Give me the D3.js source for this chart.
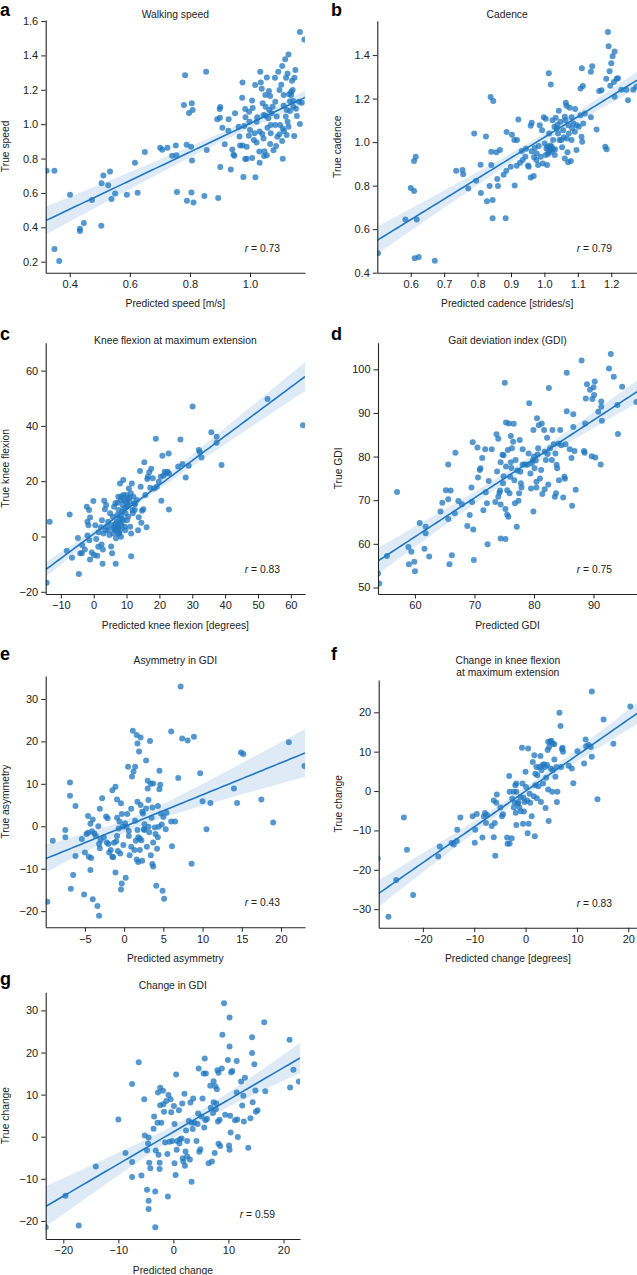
<!DOCTYPE html>
<html><head><meta charset="utf-8">
<script src="https://cdn.jsdelivr.net/npm/d3@7"></script>
<style>
body{margin:0;background:#fff;}
svg{display:block;font-family:"Liberation Sans",Arial,Helvetica,sans-serif;}
</style></head><body>
<svg id="chart" width="637" height="1275"></svg>
<script>
// ---- data: [predicted, true] pairs ----
const speedPts = [[0.323,0.729],[0.349,0.729],[0.349,0.274],[0.365,0.204],[0.401,0.590],[0.434,0.392],[0.434,0.378],[0.447,0.425],[0.474,0.559],[0.505,0.409],[0.506,0.656],[0.512,0.702],[0.534,0.724],[0.528,0.645],[0.539,0.564],[0.551,0.596],[0.590,0.590],[0.617,0.776],[0.626,0.601],[0.650,0.838],[0.701,0.863],[0.708,0.851],[0.725,0.863],[0.741,0.817],[0.753,0.876],[0.755,0.819],[0.757,0.605],[0.784,1.284],[0.780,1.111],[0.789,0.880],[0.790,0.555],[0.797,1.065],[0.806,1.121],[0.809,1.082],[0.804,0.869],[0.807,0.788],[0.805,0.603],[0.812,0.545],[0.848,0.582],[0.854,1.305],[0.856,0.850],[0.894,0.570],[0.891,1.028],[0.899,1.088],[0.901,1.100],[0.900,1.037],[0.901,0.751],[0.908,0.979],[0.916,0.883],[0.929,1.028],[0.928,0.962],[0.936,0.737],[0.941,0.853],[0.945,0.822],[0.948,0.817],[0.965,0.929],[0.967,0.876],[0.975,0.876],[0.975,1.243],[0.974,1.154],[0.978,0.693],[0.981,0.989],[0.984,1.088],[0.985,1.040],[0.984,0.797],[0.989,0.799],[0.996,0.933],[0.998,1.014],[1.007,0.803],[1.007,1.137],[1.009,1.094],[1.017,1.228],[1.018,0.691],[1.022,0.894],[1.024,1.040],[1.032,0.776],[1.032,0.958],[1.034,1.305],[1.036,1.243],[1.039,1.206],[1.041,0.943],[1.042,1.121],[1.047,0.815],[1.048,0.843],[1.052,1.049],[1.056,1.272],[1.058,0.979],[1.063,1.193],[1.067,1.164],[1.067,0.884],[1.069,0.947],[1.056,0.819],[1.072,1.063],[1.078,0.848],[1.084,1.131],[1.083,1.270],[1.087,0.873],[1.089,1.044],[1.094,1.305],[1.098,0.941],[1.104,1.230],[1.107,1.338],[1.112,1.107],[1.109,0.799],[1.113,0.960],[1.117,1.377],[1.120,1.270],[1.125,1.295],[1.128,1.406],[1.130,1.174],[1.133,1.133],[1.137,1.189],[1.140,1.253],[1.144,1.135],[1.147,0.931],[1.151,1.315],[1.153,1.090],[1.156,1.047],[1.163,1.131],[1.166,1.001],[1.166,1.536],[1.181,1.493],[1.172,1.125],[1.015,0.947],[1.045,1.053],[1.052,1.102],[1.061,1.034],[1.064,1.082],[1.075,1.102],[1.069,0.995],[1.084,0.995],[1.091,0.927],[1.100,0.995],[1.107,0.902],[1.109,0.975],[1.119,1.044],[1.122,1.082],[1.125,1.014],[1.128,0.985],[1.133,1.077],[1.137,1.170],[1.142,1.199],[1.148,1.270],[1.122,0.937],[1.144,1.102],[1.098,1.199],[1.112,1.170],[1.045,0.917],[1.031,0.841],[1.013,0.908],[0.989,0.869],[1.022,1.014],[1.051,1.170],[0.997,1.073],[0.962,0.985],[0.950,1.063],[1.000,0.966]];

const cadencePts = [[0.502,0.489],[0.584,0.645],[0.600,0.789],[0.610,0.775],[0.610,0.913],[0.615,0.933],[0.618,0.645],[0.612,0.466],[0.624,0.472],[0.672,0.455],[0.736,0.869],[0.755,0.872],[0.757,0.852],[0.772,0.787],[0.790,1.040],[0.796,0.823],[0.809,0.896],[0.810,0.766],[0.825,1.026],[0.828,0.728],[0.836,0.798],[0.839,1.207],[0.841,0.956],[0.841,0.895],[0.845,0.734],[0.845,0.650],[0.847,1.189],[0.856,0.954],[0.859,0.830],[0.861,0.798],[0.867,0.964],[0.878,0.850],[0.884,0.650],[0.886,0.869],[0.887,1.046],[0.899,0.887],[0.903,1.034],[0.910,1.010],[0.911,0.801],[0.917,0.892],[0.918,1.010],[0.922,1.104],[0.927,0.905],[0.932,0.959],[0.935,0.918],[0.943,0.933],[0.951,0.893],[0.953,0.887],[0.945,0.970],[0.959,0.838],[0.959,1.075],[0.962,1.089],[0.962,0.957],[0.968,0.844],[0.969,0.930],[0.971,0.973],[0.977,0.948],[0.981,0.895],[0.983,0.982],[0.986,1.077],[0.993,1.055],[0.995,0.902],[0.998,1.114],[1.004,1.108],[1.008,0.895],[1.013,1.316],[1.019,1.265],[1.006,0.971],[1.011,0.945],[1.014,1.040],[1.018,0.985],[1.021,0.956],[1.024,1.101],[1.026,1.010],[1.030,1.071],[1.032,0.967],[1.034,1.112],[1.037,1.063],[1.039,1.080],[1.031,0.941],[1.043,1.144],[1.045,1.010],[1.048,1.094],[1.053,0.976],[1.056,1.055],[1.058,1.022],[1.061,0.925],[1.063,1.101],[1.064,1.181],[1.066,1.167],[1.067,1.017],[1.069,0.954],[1.071,0.908],[1.072,1.078],[1.076,1.158],[1.079,0.913],[1.081,1.114],[1.087,1.086],[1.092,1.152],[1.096,0.964],[1.097,1.078],[1.103,1.071],[1.108,1.124],[1.108,1.247],[1.111,1.025],[1.112,1.340],[1.115,1.258],[1.113,1.002],[1.116,1.086],[1.121,1.132],[1.139,1.114],[1.139,1.323],[1.143,1.349],[1.156,1.058],[1.164,1.235],[1.171,1.238],[1.182,0.979],[1.186,0.967],[1.185,1.291],[1.190,1.506],[1.192,1.441],[1.195,1.326],[1.197,1.259],[1.200,1.362],[1.204,1.395],[1.210,1.417],[1.208,1.276],[1.210,1.209],[1.216,1.291],[1.220,1.293],[1.230,1.241],[1.245,1.241],[1.250,1.192],[1.266,1.241],[1.275,1.255],[1.001,0.994],[1.009,0.979],[1.016,0.971],[1.021,0.979],[1.025,0.967],[1.013,0.956],[1.004,0.941],[0.989,0.933],[0.976,0.918],[1.041,1.040],[1.051,1.010],[1.073,1.040],[1.081,1.010],[1.091,1.048],[1.061,1.117],[1.083,1.063]];

const kneePts = [[-14.3,-16.7],[-13.4,5.3],[-7.3,8.0],[-8.2,-5.2],[-6.6,-7.7],[-4.5,-13.6],[-4.8,-0.5],[-4.1,-6.1],[-3.6,-6.1],[-3.5,-3.1],[-2.7,-4.7],[-2.1,10.8],[-1.9,5.3],[-1.6,4.1],[-1.4,9.6],[-1.9,0.4],[-1.3,-1.4],[-1.1,6.9],[-1.1,-8.3],[-0.6,-5.8],[-0.1,12.8],[0.1,-6.7],[0.5,4.1],[0.8,-0.9],[1.1,-7.0],[1.4,-3.7],[1.5,1.5],[2.2,3.3],[2.4,-2.9],[2.5,5.9],[2.7,-9.9],[2.8,-4.7],[3.0,1.1],[3.2,12.9],[3.4,9.9],[3.6,2.3],[3.8,11.4],[4.0,3.5],[4.4,5.3],[4.8,0.5],[5.0,8.4],[5.3,-3.6],[5.5,4.1],[5.6,-6.1],[5.8,7.1],[6.0,1.1],[6.2,10.8],[6.4,2.3],[6.6,12.0],[6.7,-9.9],[6.8,-0.6],[7.0,5.3],[7.2,7.8],[7.3,12.2],[7.5,2.9],[7.6,9.6],[7.8,1.1],[8.0,19.2],[8.2,4.7],[8.3,-0.1],[8.4,14.4],[8.6,6.5],[8.8,11.4],[9.0,20.4],[9.2,13.2],[9.5,3.5],[9.7,8.4],[9.9,15.0],[10.1,10.8],[10.3,13.8],[10.5,7.1],[10.7,17.4],[10.9,12.6],[11.1,3.5],[11.3,15.6],[11.4,1.1],[11.4,-7.1],[11.6,19.2],[11.8,9.6],[12.1,14.4],[12.3,12.0],[12.5,9.6],[13.1,13.2],[13.5,2.3],[13.7,7.0],[14.1,23.7],[14.3,18.0],[14.5,5.0],[14.7,9.3],[15.1,9.9],[15.4,26.9],[15.7,15.0],[16.1,3.3],[16.3,20.8],[16.5,21.6],[16.9,23.2],[17.2,17.6],[17.5,24.5],[18.0,21.1],[18.4,17.4],[18.9,35.4],[19.2,18.0],[19.8,19.8],[20.4,21.6],[20.6,12.9],[20.9,29.2],[21.2,22.0],[21.6,23.4],[22.0,22.8],[22.5,23.4],[22.8,30.0],[22.9,9.8],[22.9,22.8],[25.7,25.3],[26.4,35.1],[27.0,26.2],[28.0,21.3],[28.9,25.6],[30.1,47.0],[32.0,31.3],[32.3,30.6],[32.8,28.6],[35.8,37.7],[37.4,36.1],[37.4,33.9],[38.9,25.9],[52.9,49.7],[63.7,40.2],[6.5,4.5],[7.2,3.5],[7.7,5.9],[8.2,7.4],[8.7,9.0],[9.4,10.2],[9.9,12.6],[10.4,11.4],[10.9,14.1],[8.0,2.3],[7.5,1.1],[6.8,2.6],[6.0,3.2],[8.5,4.1],[9.0,5.9],[9.6,2.3],[10.1,5.9],[11.9,8.4],[12.6,11.7],[9.0,15.0],[8.2,13.2],[7.5,14.4],[4.5,2.3]];

const gdiPts = [[53.8,53.2],[54.0,50.9],[55.3,57.2],[57.0,71.9],[58.9,59.3],[59.0,55.3],[59.4,58.2],[59.9,55.9],[60.0,53.7],[60.8,64.8],[61.6,58.9],[61.8,63.9],[61.8,62.4],[62.4,57.1],[64.3,67.4],[64.6,69.4],[65.2,72.3],[65.6,78.2],[65.6,70.2],[65.6,65.7],[65.8,55.3],[66.0,72.2],[66.2,57.4],[66.8,80.9],[66.7,67.0],[67.3,69.8],[67.9,69.1],[68.8,64.1],[69.2,66.6],[69.5,72.9],[69.6,69.6],[69.7,83.3],[69.8,63.3],[69.9,56.3],[70.5,82.1],[70.6,75.2],[70.9,76.9],[71.0,77.3],[71.3,79.7],[71.5,67.7],[71.8,81.7],[71.9,71.8],[72.1,69.3],[72.2,59.9],[72.4,74.4],[72.9,81.7],[73.5,69.6],[73.7,85.1],[73.8,76.6],[74.0,84.1],[74.0,70.8],[74.2,71.7],[74.3,72.2],[74.4,61.2],[74.4,69.0],[74.4,78.7],[74.7,80.4],[74.8,73.9],[74.9,80.3],[74.9,75.5],[75.1,96.9],[75.2,61.1],[75.2,68.0],[75.3,77.7],[75.3,87.8],[75.5,72.3],[75.5,66.7],[75.6,81.5],[75.7,66.2],[75.8,87.6],[75.9,71.6],[76.0,75.4],[76.1,78.7],[76.1,84.7],[76.2,77.4],[76.3,81.9],[76.5,83.4],[76.6,87.5],[76.7,74.6],[76.8,69.3],[76.9,79.2],[77.1,63.9],[77.2,76.8],[77.4,69.9],[77.5,71.6],[77.6,83.8],[77.7,76.5],[77.8,73.9],[77.9,72.9],[78.1,81.7],[78.1,78.2],[78.5,78.2],[78.9,78.1],[79.1,80.7],[79.2,92.2],[79.4,76.1],[79.5,72.7],[79.6,78.4],[79.8,79.1],[79.9,67.4],[79.9,86.1],[80.0,80.0],[80.1,77.3],[80.3,79.1],[80.4,74.2],[80.4,72.9],[80.5,88.8],[80.6,80.5],[80.7,81.9],[80.8,87.2],[81.0,75.0],[81.2,76.9],[81.3,87.6],[81.4,71.4],[81.7,86.1],[81.8,81.1],[81.8,72.5],[82.0,79.2],[82.2,84.3],[82.3,80.6],[82.4,73.6],[82.5,95.7],[82.7,81.9],[83.0,79.2],[83.1,86.1],[83.3,82.8],[83.5,70.8],[83.6,80.7],[83.7,71.6],[83.8,78.1],[83.9,77.3],[84.1,83.0],[84.2,74.6],[84.4,86.1],[84.6,82.6],[84.9,70.6],[85.1,75.4],[85.2,74.9],[85.3,82.8],[85.5,90.4],[85.5,99.2],[86.0,81.7],[86.3,79.7],[86.4,68.7],[86.6,86.8],[86.6,89.7],[86.8,81.3],[87.0,72.4],[88.4,81.3],[88.5,80.9],[88.6,87.6],[88.0,102.0],[88.7,93.3],[88.9,96.6],[89.4,95.3],[89.7,80.1],[89.8,93.2],[90.0,95.9],[90.1,94.1],[90.2,97.2],[90.3,79.8],[90.8,90.3],[91.2,78.2],[91.3,92.6],[91.3,91.4],[91.4,88.2],[92.6,100.2],[92.9,103.5],[93.4,98.3],[94.0,91.8],[94.1,85.2],[94.8,96.0],[97.2,92.5]];

const asymPts = [[-9.8,-17.8],[-9.1,-3.4],[-7.5,-0.9],[-7.5,-2.6],[-6.9,10.3],[-6.9,7.2],[-6.8,-14.7],[-6.5,-11.5],[-6.2,4.8],[-6.2,-7.0],[-5.4,-3.0],[-5.1,-16.1],[-5.0,-6.2],[-4.8,-1.8],[-4.6,2.4],[-4.6,-1.5],[-4.5,-7.2],[-4.3,-10.3],[-4.3,0.6],[-4.2,-7.5],[-4.1,-1.2],[-4.0,-17.2],[-4.0,1.6],[-3.8,-1.7],[-3.6,-2.3],[-3.4,-18.8],[-3.3,0.0],[-3.2,-4.2],[-3.2,-21.1],[-3.1,-5.2],[-3.1,4.1],[-3.0,-3.3],[-2.8,6.6],[-2.6,-2.6],[-2.3,2.3],[-2.2,-3.8],[-2.1,1.9],[-2.0,-4.2],[-1.9,-6.2],[-1.7,-5.6],[-1.5,-7.2],[-1.5,8.5],[-1.4,-7.3],[-1.3,-3.9],[-1.1,-10.9],[-1.1,9.3],[-1.0,-3.5],[-0.9,2.0],[-0.9,6.3],[-0.9,-2.3],[-0.8,-5.8],[-0.7,-0.5],[-0.6,1.1],[-0.5,-6.4],[-0.4,5.4],[-0.4,-14.9],[-0.3,2.9],[-0.3,-13.5],[-0.2,-0.1],[-0.1,-4.4],[0.1,0.7],[0.2,-12.1],[0.3,-0.1],[0.4,2.9],[0.5,14.0],[0.6,-1.1],[0.6,-2.3],[0.7,-6.8],[0.9,4.1],[0.9,-4.8],[1.0,11.7],[1.1,22.5],[1.2,12.9],[1.3,-5.6],[1.4,1.3],[1.4,14.0],[1.5,-3.4],[1.6,21.5],[1.6,-7.8],[1.7,-0.9],[1.7,19.5],[1.7,5.8],[1.8,-8.4],[1.8,-2.6],[1.9,17.6],[2.0,-2.9],[2.0,-5.6],[2.1,20.9],[2.1,5.0],[2.2,-3.3],[2.3,-8.1],[2.3,3.4],[2.4,3.0],[2.5,-0.7],[2.6,0.5],[2.6,-0.9],[2.8,4.2],[2.8,15.5],[2.9,-4.8],[3.0,10.7],[3.0,8.9],[3.1,6.2],[3.1,-0.1],[3.2,-1.4],[3.3,20.1],[3.4,-6.8],[3.4,10.0],[3.5,2.0],[3.6,-8.9],[3.6,4.4],[3.7,-3.8],[3.7,10.1],[3.7,-9.5],[3.9,-0.3],[4.0,-1.8],[4.2,-5.3],[4.1,-14.0],[4.3,-2.6],[4.3,4.8],[4.4,-0.1],[4.5,8.7],[4.5,13.1],[4.6,9.8],[4.7,3.0],[4.8,0.4],[4.9,-15.2],[5.0,2.2],[5.1,-17.1],[5.3,-0.7],[5.4,3.2],[6.0,22.3],[6.0,1.1],[6.1,-4.7],[6.5,1.1],[6.9,11.4],[7.2,32.9],[7.4,20.7],[8.1,20.2],[8.6,-8.8],[8.9,21.1],[9.7,12.5],[10.0,5.9],[10.5,-0.7],[11.0,5.5],[14.0,8.9],[14.4,5.5],[14.9,17.4],[15.2,17.0],[17.5,6.3],[19.0,0.9],[21.0,19.8],[23.0,14.2]];

const kneeChangePts = [[-28.8,-17.1],[-26.7,-31.9],[-25.2,-22.6],[-23.7,-6.7],[-23.1,-14.9],[-21.9,-26.4],[-17.0,-16.6],[-16.7,-14.1],[-14.4,-13.2],[-14.0,-13.6],[-13.4,-12.7],[-13.3,-9.8],[-12.7,-6.7],[-10.3,-6.4],[-9.8,-9.8],[-9.9,-13.1],[-9.5,-5.8],[-8.4,-11.8],[-8.1,-6.4],[-7.9,-5.6],[-7.7,-8.1],[-7.5,-6.1],[-6.6,-8.9],[-6.2,-11.7],[-6.2,-2.4],[-6.0,-8.1],[-5.9,-16.4],[-5.7,-3.0],[-5.6,-0.9],[-4.9,-4.2],[-4.6,-6.4],[-4.4,-5.9],[-3.6,-11.8],[-3.5,-13.4],[-3.2,3.8],[-3.1,-13.3],[-3.1,-0.2],[-2.7,-12.0],[-2.6,-1.9],[-2.3,-4.2],[-2.3,-0.2],[-2.1,-3.0],[-2.0,1.5],[-1.9,-5.5],[-1.8,-0.2],[-1.8,1.9],[-1.8,-8.6],[-1.5,-3.2],[-1.4,-2.8],[-1.2,-4.1],[-1.0,-1.5],[-0.9,-5.1],[-0.7,11.0],[-0.6,1.9],[-0.5,-8.3],[-0.4,-1.7],[-0.3,-5.2],[-0.2,-2.8],[0.0,4.9],[0.1,1.0],[0.3,-2.4],[0.4,-10.7],[0.5,10.8],[0.6,-8.3],[0.8,-0.7],[0.9,-3.0],[1.2,-6.4],[1.4,7.4],[1.6,-1.3],[1.7,9.1],[1.8,-11.5],[1.9,1.5],[1.9,4.4],[2.1,6.1],[2.2,-1.8],[2.3,4.0],[2.5,1.2],[2.7,6.1],[2.9,8.9],[3.0,-2.8],[3.1,5.3],[3.3,6.6],[3.4,1.9],[3.6,6.8],[3.8,6.1],[3.9,-4.3],[4.0,3.4],[4.2,6.6],[4.3,10.4],[4.4,12.5],[4.4,0.4],[4.5,-7.6],[4.6,11.2],[4.8,12.5],[4.9,5.7],[5.0,12.8],[5.2,-0.2],[5.3,5.3],[5.3,12.1],[5.6,11.9],[5.6,8.0],[5.8,3.6],[6.0,6.1],[6.1,-2.8],[6.2,-0.2],[6.6,19.9],[6.8,16.5],[6.9,6.1],[7.1,10.6],[7.2,11.0],[7.3,10.0],[8.4,6.4],[9.0,5.7],[9.3,2.0],[10.1,10.1],[11.4,7.0],[11.7,13.1],[11.8,11.4],[12.3,11.7],[12.7,11.2],[12.9,25.3],[12.9,8.7],[14.0,-2.1],[15.2,18.2],[17.1,12.0],[20.4,21.5]];

const gdiChangePts = [[-23.2,-21.5],[-19.6,-14.0],[-17.2,-21.1],[-14.1,-7.1],[-10.0,4.1],[-8.7,-3.9],[-7.5,12.5],[-7.5,-9.6],[-7.5,-6.0],[-6.3,17.7],[-5.8,-9.2],[-5.3,8.9],[-5.2,0.3],[-4.8,-12.6],[-4.8,-3.2],[-4.6,-1.6],[-4.5,-0.2],[-4.5,-15.2],[-4.5,-17.2],[-4.4,-6.2],[-4.2,-7.5],[-3.6,1.9],[-3.5,4.8],[-3.3,-13.0],[-3.3,-21.5],[-3.2,-3.3],[-2.9,3.3],[-2.8,10.5],[-2.7,-4.3],[-2.5,-6.2],[-2.5,-7.7],[-2.4,11.6],[-2.4,7.5],[-2.2,3.3],[-1.9,10.9],[-1.8,7.7],[-1.7,5.9],[-1.5,-1.4],[-1.3,8.5],[-1.1,-4.1],[-1.0,-14.2],[-0.9,9.9],[-0.7,-1.2],[-0.5,8.9],[-0.4,5.8],[-0.2,-1.0],[0.1,7.3],[0.2,-6.3],[0.2,3.0],[0.4,-9.1],[0.5,14.8],[0.6,-3.1],[0.7,-1.0],[1.0,6.3],[1.1,-1.6],[1.2,-0.6],[1.5,-0.4],[1.6,7.9],[1.7,-5.1],[1.8,-5.9],[2.0,10.2],[2.1,-6.9],[2.2,-3.5],[2.3,1.5],[2.5,-1.0],[2.5,-4.7],[2.8,3.7],[3.0,-5.4],[3.1,8.1],[3.3,3.3],[3.3,-10.7],[3.5,1.8],[3.6,9.1],[3.8,3.3],[4.2,-1.0],[4.4,3.0],[4.5,5.5],[4.6,16.2],[4.7,-3.6],[4.9,-3.0],[5.1,4.8],[5.3,9.1],[5.5,15.0],[5.6,2.2],[5.7,18.6],[5.8,3.9],[5.9,15.0],[6.1,4.2],[6.4,-6.3],[6.7,12.1],[6.8,6.9],[7.0,-5.9],[7.2,5.6],[7.3,13.2],[7.3,8.2],[7.5,-3.9],[7.6,12.0],[7.7,6.5],[7.8,7.9],[7.9,11.3],[8.0,15.8],[8.1,3.6],[8.2,15.2],[8.2,-1.7],[8.4,4.0],[8.5,-2.2],[8.8,16.2],[8.9,24.2],[9.2,31.7],[9.4,5.2],[9.9,18.2],[10.1,-2.1],[10.2,28.3],[10.2,21.4],[10.2,-3.1],[10.3,5.0],[10.4,1.0],[10.5,15.3],[10.7,15.6],[11.2,3.9],[11.5,18.0],[11.5,10.5],[11.6,4.1],[11.7,-0.1],[12.3,13.1],[12.5,7.4],[12.7,9.7],[12.8,3.6],[13.0,14.0],[13.6,-2.6],[14.0,4.4],[14.3,23.6],[14.3,19.9],[14.4,8.2],[14.7,17.2],[14.9,11.0],[15.0,5.9],[15.3,6.3],[16.5,27.2],[16.7,10.8],[21.1,23.0],[21.2,11.7],[21.8,15.9],[22.8,13.1]];

// ---- tick labels ----
const speedXTicks = [0.4, 0.6, 0.8, 1.0];
const speedYTicks = [0.2, 0.4, 0.6, 0.8, 1.0, 1.2, 1.4, 1.6];
const cadenceXTicks = [0.6, 0.7, 0.8, 0.9, 1.0, 1.1, 1.2];
const cadenceYTicks = [0.4, 0.6, 0.8, 1.0, 1.2, 1.4];
const kneeXTicks = [-10, 0, 10, 20, 30, 40, 50, 60];
const kneeYTicks = [-20, 0, 20, 40, 60];
const gdiXTicks = [60, 70, 80, 90];
const gdiYTicks = [50, 60, 70, 80, 90, 100];
const asymXTicks = [-5, 0, 5, 10, 15, 20];
const asymYTicks = [-20, -10, 0, 10, 20, 30];
const kneeChangeXTicks = [-20, -10, 0, 10, 20];
const kneeChangeYTicks = [-30, -20, -10, 0, 10, 20];
const gdiChangeXTicks = [-20, -10, 0, 10, 20];
const gdiChangeYTicks = [-20, -10, 0, 10, 20, 30];

const rValues = ["0.73", "0.79", "0.83", "0.75", "0.43", "0.83", "0.59"];

const panels = [
  {id:"a", title:["Walking speed"], xlabel:"Predicted speed [m/s]", ylabel:"True speed", pts:speedPts, xt:speedXTicks, yt:speedYTicks, fmt:".1f",
   box:{l:45.7, r:305, t:20, b:272.7}, xd:[0.32,1.183], yd:[0.136,1.606], letter:{x:0, y:16}, titleY:14.5},
  {id:"b", title:["Cadence"], xlabel:"Predicted cadence [strides/s]", ylabel:"True cadence", pts:cadencePts, xt:cadenceXTicks, yt:cadenceYTicks, fmt:".1f",
   box:{l:377.3, r:637, t:20.7, b:272.7}, xd:[0.5,1.277], yd:[0.4,1.558], letter:{x:331, y:16}, titleY:14.5},
  {id:"c", title:["Knee flexion at maximum extension"], xlabel:"Predicted knee flexion [degrees]", ylabel:"True knee flexion", pts:kneePts, xt:kneeXTicks, yt:kneeYTicks, fmt:"d",
   box:{l:45.7, r:305, t:342.7, b:594}, xd:[-14.6,64.3], yd:[-20.8,70.1], letter:{x:0, y:340}, titleY:340.7},
  {id:"d", title:["Gait deviation index (GDI)"], xlabel:"Predicted GDI", ylabel:"True GDI", pts:gdiPts, xt:gdiXTicks, yt:gdiYTicks, fmt:"d",
   box:{l:378, r:637, t:342.7, b:594}, xd:[53.8,97.3], yd:[48.5,106.1], letter:{x:331, y:340}, titleY:340.7},
  {id:"e", title:["Asymmetry in GDI"], xlabel:"Predicted asymmetry", ylabel:"True asymmetry", pts:asymPts, xt:asymXTicks, yt:asymYTicks, fmt:"d",
   box:{l:45.7, r:305, t:676, b:927.3}, xd:[-10.0,23.06], yd:[-23.8,35.4], letter:{x:0, y:660}, titleY:660.7},
  {id:"f", title:["Change in knee flexion","at maximum extension"], xlabel:"Predicted change [degrees]", ylabel:"True change", pts:kneeChangePts, xt:kneeChangeXTicks, yt:kneeChangeYTicks, fmt:"d",
   box:{l:378.7, r:637, t:680, b:927.7}, xd:[-28.6,21.7], yd:[-34.7,28.2], letter:{x:331, y:660}, titleY:660},
  {id:"g", title:["Change in GDI"], xlabel:"Predicted change", ylabel:"True change", pts:gdiChangePts, xt:gdiChangeXTicks, yt:gdiChangeYTicks, fmt:"d",
   box:{l:45.7, r:300, t:992.3, b:1239}, xd:[-23.2,23.0], yd:[-24.3,34.3], letter:{x:0, y:985}, titleY:985.7}
];

const BLUE = "#1f77c0";
const svg = d3.select("#chart");
const defs = svg.append("defs");

function regression(pts){
  const n = pts.length;
  const mx = d3.mean(pts, d=>d[0]), my = d3.mean(pts, d=>d[1]);
  let sxx=0, sxy=0;
  pts.forEach(d=>{ sxx += (d[0]-mx)**2; sxy += (d[0]-mx)*(d[1]-my); });
  const b = sxy/sxx, a = my - b*mx;
  let sse=0; pts.forEach(d=>{ sse += (d[1]-a-b*d[0])**2; });
  const s = Math.sqrt(sse/(n-2));
  return {a, b, se: x => s*Math.sqrt(1/n + (x-mx)**2/sxx)};
}

panels.forEach((p, i) => {
  const B = p.box;
  const x = d3.scaleLinear().domain(p.xd).range([B.l, B.r]);
  const y = d3.scaleLinear().domain(p.yd).range([B.b, B.t]);
  const g = svg.append("g");

  defs.append("clipPath").attr("id", "clip-"+p.id)
    .append("rect").attr("x", B.l).attr("y", B.t).attr("width", B.r-B.l).attr("height", B.b-B.t);
  const plot = g.append("g").attr("clip-path", `url(#clip-${p.id})`);

  // points
  plot.selectAll("circle").data(p.pts).join("circle")
    .attr("cx", d=>x(d[0])).attr("cy", d=>y(d[1])).attr("r", 3.0)
    .attr("fill", BLUE).attr("fill-opacity", 0.76);

  // regression + 95% CI
  const reg = regression(p.pts);
  const t = 1.975;
  const xs = d3.range(101).map(k => p.xd[0] + k*(p.xd[1]-p.xd[0])/100);
  plot.append("path").datum(xs)
    .attr("d", d3.area().x(v=>x(v))
      .y0(v=>y(reg.a+reg.b*v - t*reg.se(v)))
      .y1(v=>y(reg.a+reg.b*v + t*reg.se(v))))
    .attr("fill", BLUE).attr("fill-opacity", 0.15).attr("stroke","none");
  plot.append("path").datum(xs)
    .attr("d", d3.line().x(v=>x(v)).y(v=>y(reg.a+reg.b*v)))
    .attr("fill","none").attr("stroke", BLUE).attr("stroke-width", 1.6);

  // axes
  const fmt = d3.format(p.fmt);
  const xa = g.append("g").attr("transform", `translate(0,${B.b})`)
    .call(d3.axisBottom(x).tickValues(p.xt).tickFormat(fmt).tickSize(4.5).tickPadding(3).tickSizeOuter(0));
  const ya = g.append("g").attr("transform", `translate(${B.l},0)`)
    .call(d3.axisLeft(y).tickValues(p.yt).tickFormat(fmt).tickSize(4.5).tickPadding(3).tickSizeOuter(0));
  [xa, ya].forEach(a => {
    a.attr("font-family", null).attr("font-size", null);
    a.selectAll("text").attr("font-size", 11).attr("fill", "#222");
    a.selectAll("line").attr("stroke", "#222").attr("stroke-width", 1);
    a.select(".domain").attr("stroke", "#222").attr("stroke-width", 1.1);
  });

  // titles & labels
  const cx = (B.l + B.r)/2;
  p.title.forEach((tl, k) => {
    g.append("text").attr("x", cx).attr("y", p.titleY + k*12.3)
      .attr("text-anchor","middle").attr("dominant-baseline","central")
      .attr("font-size", 10.3).attr("fill","#222").text(tl);
  });
  g.append("text").attr("x", cx).attr("y", B.b + 31)
    .attr("text-anchor","middle").attr("dominant-baseline","central")
    .attr("font-size", 10.3).attr("fill","#222").text(p.xlabel);
  g.append("text").attr("transform", `translate(${B.l-40},${(B.t+B.b)/2}) rotate(-90)`)
    .attr("text-anchor","middle").attr("dominant-baseline","central")
    .attr("font-size", 10.3).attr("fill","#222").text(p.ylabel);

  const rt = g.append("text").attr("x", B.r - 25).attr("y", B.b - 25)
    .attr("text-anchor","end").attr("dominant-baseline","central")
    .attr("font-size", 10.3).attr("fill","#222");
  rt.append("tspan").attr("font-style","italic").text("r");
  rt.append("tspan").text(" = " + rValues[i]);

  g.append("text").attr("x", p.letter.x).attr("y", p.letter.y)
    .attr("font-size", 18).attr("font-weight","bold").attr("fill","#000").text(p.id);
});
</script>
</body></html>
